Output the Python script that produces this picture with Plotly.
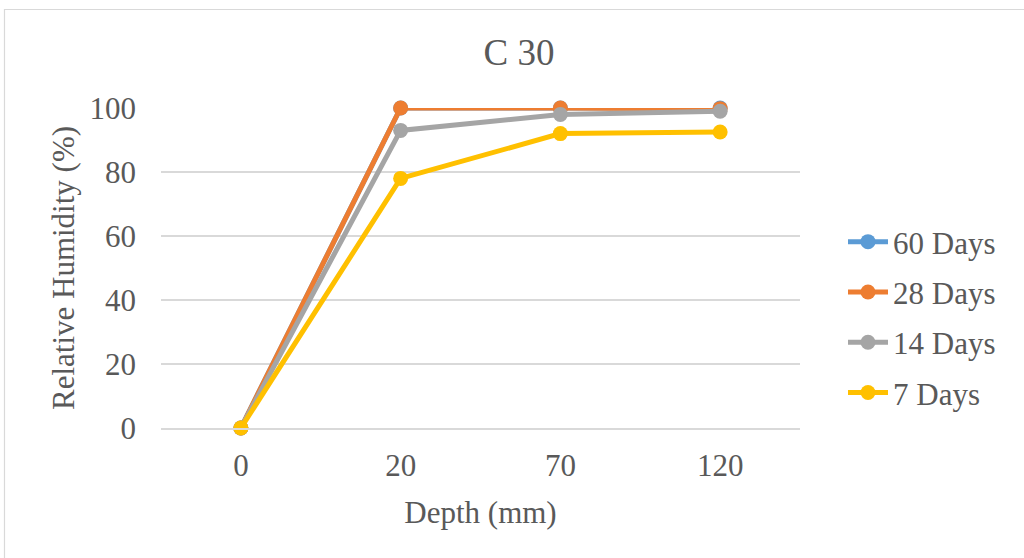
import plotly.graph_objects as go

depth = ["0", "20", "70", "120"]
series_names = ["60 Days", "28 Days", "14 Days", "7 Days"]
rh_60 = [0, 100, 100, 100]
rh_28 = [0, 100, 100, 99.8]
rh_14 = [0, 93, 98, 99]
rh_7 = [0, 78, 92, 92.5]
colors = ["#5B9BD5", "#ED7D31", "#A5A5A5", "#FFC000"]

fig = go.Figure()
for name, vals, c in zip(series_names, [rh_60, rh_28, rh_14, rh_7], colors):
    fig.add_trace(go.Scatter(
        x=depth, y=vals, name=name, mode="lines+markers",
        line=dict(color=c, width=5),
        marker=dict(color=c, size=15),
        legendgroup=name, cliponaxis=False,
    ))

font_family = "Liberation Serif, Times New Roman, serif"
txt = "#595959"
L, R, T, B = 161, 224, 108, 130
W, H = 1024, 558
pw = W - L - R
ph = H - T - B
fs = 31

fig.update_layout(
    width=W, height=H,
    margin=dict(l=L, r=R, t=T, b=B, pad=0),
    paper_bgcolor="white", plot_bgcolor="white",
    font=dict(family=font_family, color=txt, size=fs),
    title=dict(text="C 30", x=519 / W, xanchor="center",
               y=1 - 52 / H, yanchor="middle", font=dict(size=37, color=txt)),
    xaxis=dict(
        type="category", range=[-0.5, 3.5], showgrid=False,
        showline=True, linecolor="#D9D9D9", linewidth=1.5,
        ticks="", tickfont=dict(size=fs, color=txt), ticklabelstandoff=9,
        title=dict(text="Depth (mm)", font=dict(size=fs, color=txt), standoff=19),
        zeroline=False,
    ),
    yaxis=dict(
        range=[0, 100], tickvals=[0, 20, 40, 60, 80, 100],
        showgrid=True, gridcolor="#D9D9D9", gridwidth=1.5,
        zeroline=False, showline=False, ticks="",
        tickfont=dict(size=fs, color=txt), ticklabelstandoff=24,
        title=dict(text="Relative Humidity (%)", font=dict(size=fs, color=txt), standoff=5),
    ),
    legend=dict(
        x=(843 - L) / pw, xanchor="left", y=1 - (215 - T) / ph, yanchor="top",
        font=dict(size=fs, color=txt), tracegroupgap=7,
        itemwidth=40, bgcolor="rgba(0,0,0,0)",
    ),
    showlegend=True,
)

# chart border
fig.add_shape(type="rect", xref="paper", yref="paper",
              x0=(4.5 - L) / pw, x1=(1030 - L) / pw,
              y0=1 - (565 - T) / ph, y1=1 - (9.5 - T) / ph,
              line=dict(color="#D9D9D9", width=1.2), layer="below")

fig.write_html("out.html")
